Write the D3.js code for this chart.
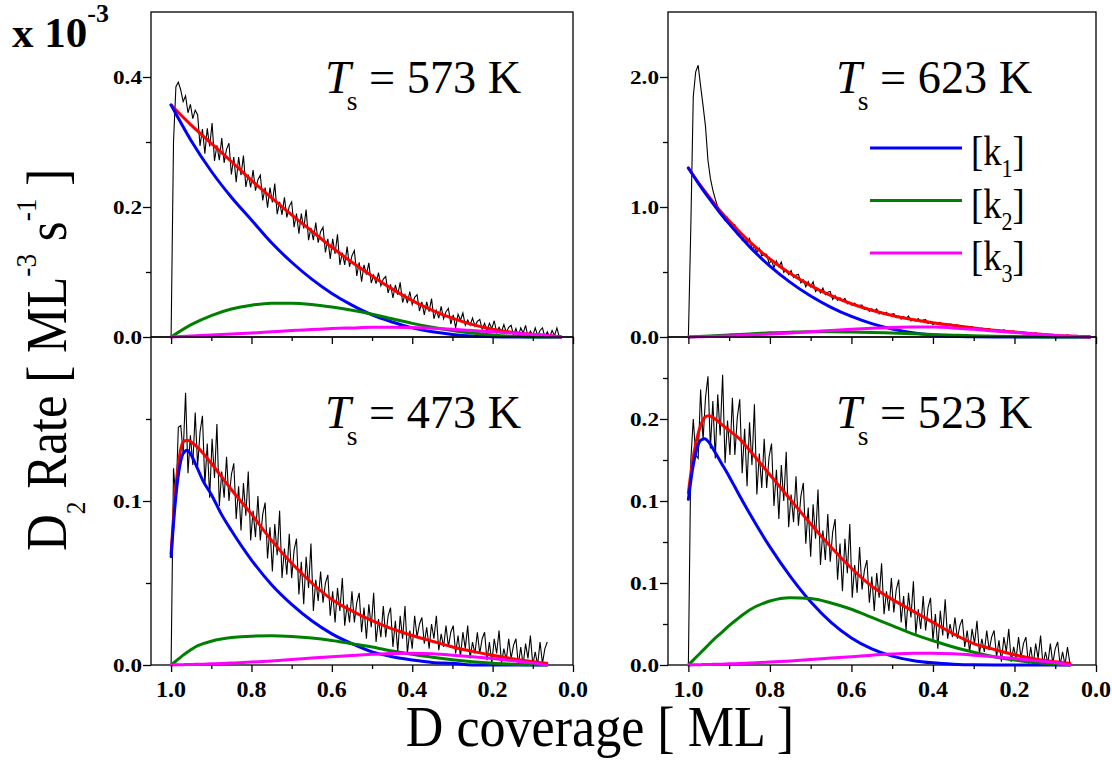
<!DOCTYPE html>
<html><head><meta charset="utf-8">
<script src="https://cdn.jsdelivr.net/npm/d3@7"></script>
<style>body{margin:0;background:#fff}svg{display:block}</style>
</head><body>
<script>
// ---------- DATA ----------
const temps = ["573", "623", "473", "523"];
const legendLabels = ["1", "2", "3"];
const xMajor = [1.0, 0.8, 0.6, 0.4, 0.2, 0.0];
const xMinor = [0.9, 0.7, 0.5, 0.3, 0.1];
const xLabels = ["1.0", "0.8", "0.6", "0.4", "0.2", "0.0"];

const yMajA = [0, 0.2, 0.4], yMinA = [0.1, 0.3], yLabA = ["0.0", "0.2", "0.4"];
const yMajB = [0, 1, 2], yMinB = [0.5, 1.5], yLabB = ["0.0", "1.0", "2.0"];
const yMajC = [0, 0.1], yMinC = [0.05, 0.15], yLabC = ["0.0", "0.1"];
const yMajD = [0, 0.05, 0.1, 0.15], yMinD = [0.025, 0.075, 0.125, 0.175], yLabD = ["0.0", "0.1", "0.1", "0.2"];

// measured signal: coverage runs from 1.0 downward in equal steps
const blackStart = 1.0, blackStep = 0.006;

// Ts = 573 K
const fitCovA = [1.0,.95,.9,.85,.8,.75,.7,.65,.6,.55,.5,.45,.4,.35,.3,.25,.2,.15,.1,.05,.03];
const redA = [.357,.326,.298,.27,.241,.214,.188,.163,.138,.115,.094,.074,.056,.041,.029,.019,.012,.007,.004,.0015,0];
const blueA = [.357,.302,.255,.215,.180,.145,.115,.089,.067,.049,.034,.023,.014,.008,.004,.0015,.0005,0,0,0,0];
const greenA = [0,.019,.033,.043,.049,.052,.052,.050,.046,.041,.035,.028,.021,.015,.010,.006,.003,.001,0,0,0];
const magentaA = [0,.0015,.003,.0045,.006,.008,.010,.0115,.013,.014,.015,.015,.0145,.0135,.012,.010,.008,.006,.004,.0015,0];
const blackA = [0,.30,.385,.392,.38,.362,.371,.345,.358,.336,
 .349,.342,.294,.320,.282,.321,.293,.329,.271,.295,
 .272,.306,.268,.289,.298,.250,.277,.238,.277,.249,
 .279,.231,.250,.230,.257,.225,.242,.249,.210,.230,
 .199,.230,.207,.236,.189,.208,.188,.215,.184,.201,
 .208,.169,.190,.159,.190,.167,.196,.149,.168,.149,
 .176,.145,.162,.169,.130,.151,.120,.151,.128,.158,
 .111,.130,.111,.139,.108,.125,.133,.094,.115,.085,
 .111,.096,.114,.083,.095,.082,.099,.079,.089,.093,
 .068,.081,.060,.080,.065,.084,.053,.065,.052,.070,
 .050,.061,.065,.040,.054,.034,.054,.039,.059,.028,
 .041,.029,.047,.028,.039,.044,.020,.034,.014,.035,
 .026,.037,.018,.026,.018,.029,.017,.024,.027,.012,
 .021,.009,.021,.013,.025,.007,.015,.008,.019,.007,
 .015,.018,.003,.013,.001,.014,.006,.018,0,.009,
 .002,.014,.002,.010,.014,0,.008,0,.010,.002,
 .014,0];

// Ts = 623 K
const fitCovB = [1.0,.975,.95,.925,.9,.875,.85,.8,.75,.7,.65,.6,.55,.5,.45,.4,.35,.3,.25,.2,.15,.1,.05,.015];
const redB = [1.30,1.185,1.081,.982,.894,.811,.734,.60,.488,.395,.318,.256,.206,.166,.135,.11,.089,.069,.052,.038,.024,.012,.005,0];
const blueB = [1.30,1.18,1.07,.965,.87,.78,.695,.545,.42,.315,.228,.158,.103,.062,.033,.015,.005,.001,0,0,0,0,0,0];
const greenB = [0,.004,.008,.012,.016,.020,.024,.032,.037,.040,.040,.038,.035,.030,.025,.019,.014,.009,.005,.003,.001,0,0,0];
const magentaB = [0,.0015,.003,.005,.008,.011,.015,.023,.031,.040,.050,.060,.068,.074,.077,.076,.070,.059,.047,.035,.023,.012,.005,0];
const blackB = [0,.85,1.85,2.04,2.09,1.93,1.78,1.62,1.36,1.22,
 1.13,1.06,1.0,.95,.93,.896,.920,.857,.867,.863,
 .789,.805,.745,.777,.728,.758,.676,.693,.653,.682,
 .624,.638,.636,.566,.588,.533,.585,.542,.576,.497,
 .516,.479,.511,.458,.477,.481,.416,.440,.387,.427,
 .386,.425,.349,.373,.340,.376,.325,.345,.351,.289,
 .318,.283,.302,.279,.296,.255,.264,.245,.261,.234,
 .244,.245,.212,.224,.197,.217,.197,.216,.178,.190,
 .173,.190,.165,.175,.179,.148,.162,.137,.158,.141,
 .161,.124,.137,.122,.142,.118,.130,.134,.104,.119,
 .095,.113,.103,.113,.093,.099,.090,.100,.086,.091,
 .093,.076,.083,.070,.081,.071,.081,.061,.068,.059,
 .069,.056,.062,.064,.048,.055,.042,.054,.045,.056,
 .036,.043,.035,.046,.033,.039,.041,.025,.033,.020,
 .032,.023,.034,.015,.022,.014,.025,.012,.019,.021,
 .006,.014,.002,.015,.006,.018,0,.008,.001,.012,
 0,.007,.010,0,.002];

// Ts = 473 K
const fitCovC = [1.0,.99,.98,.97,.96,.95,.94,.92,.9,.875,.85,.8,.75,.7,.65,.6,.55,.5,.45,.4,.35,.3,.25,.2,.15,.1,.065];
const redC = [.068,.103,.126,.136,.137,.136,.134,.129,.123,.115,.107,.092,.076,.062,.050,.040,.033,.027,.022,.018,.0145,.011,.0083,.0059,.0038,.002,.001];
const blueC = [.066,.098,.119,.129,.131,.128,.123,.112,.104,.092,.082,.064,.049,.037,.027,.019,.013,.008,.005,.003,.0015,.001,0,0,0,0,0];
const greenC = [0,.002,.004,.006,.0078,.0094,.011,.013,.0145,.0158,.0167,.0176,.0178,.0174,.0165,.015,.013,.011,.0085,.0065,.0047,.0032,.002,.0011,.0005,.0001,0];
const magentaC = [0,.0001,.0002,.0002,.0003,.0003,.0004,.0005,.0007,.0009,.0012,.0018,.0025,.0033,.0042,.005,.0058,.0065,.007,.0071,.0068,.006,.005,.0039,.0026,.0013,0];
const blackC = [0,.12,.10,.145,.146,.129,.166,.117,.140,.122,
 .154,.121,.142,.152,.110,.135,.102,.138,.114,.147,
 .097,.118,.102,.127,.100,.116,.123,.089,.109,.082,
 .111,.091,.118,.076,.094,.078,.103,.076,.092,.099,
 .065,.084,.057,.086,.067,.094,.053,.071,.055,.080,
 .053,.070,.077,.043,.063,.037,.066,.047,.074,.033,
 .052,.039,.057,.038,.050,.055,.030,.045,.026,.047,
 .033,.053,.024,.037,.026,.045,.026,.038,.044,.020,
 .035,.016,.037,.023,.044,.014,.028,.017,.036,.017,
 .030,.035,.011,.027,.008,.030,.016,.036,.007,.021,
 .010,.030,.017,.025,.029,.013,.023,.010,.025,.016,
 .030,.009,.019,.011,.024,.011,.020,.024,.007,.018,
 .005,.020,.010,.024,.004,.014,.007,.020,.007,.016,
 .020,.003,.014,.001,.016,.007,.021,.001,.010,.003,
 .016,.004,.012,.016,0,.011,0,.013,.004,.018,
 0,.008,0,.014,.001,.010,.014];

// Ts = 523 K
const fitCovD = [1.0,.99,.98,.97,.96,.95,.94,.92,.9,.875,.85,.8,.75,.7,.65,.6,.55,.5,.45,.4,.35,.3,.25,.2,.15,.1,.064];
const redD = [.105,.124,.137,.146,.151,.152,.151,.147,.143,.138,.131,.116,.101,.086,.072,.059,.048,.040,.033,.026,.019,.013,.0095,.0063,.0037,.002,.001];
const blueD = [.101,.119,.131,.137,.138,.136,.132,.1235,.115,.1035,.0925,.072,.054,.0385,.026,.0165,.0098,.0054,.0028,.0013,.0005,.0001,0,0,0,0,0];
const greenD = [0,.0025,.005,.0075,.010,.0125,.015,.0195,.024,.029,.0335,.039,.041,.0405,.0378,.034,.029,.024,.019,.0148,.011,.0078,.005,.003,.0015,.0005,0];
const magentaD = [0,.0001,.0002,.0002,.0003,.0003,.0004,.0005,.0007,.0009,.0012,.0018,.0025,.0033,.0042,.005,.006,.0067,.0072,.0072,.0068,.006,.005,.0039,.0027,.0015,0];
const blackD = [0,.125,.15,.128,.126,.168,.137,.163,.176,.132,
 .161,.126,.165,.140,.177,.123,.149,.128,.163,.128,
 .151,.162,.117,.144,.109,.148,.122,.159,.104,.129,
 .108,.138,.108,.127,.135,.097,.119,.089,.122,.100,
 .130,.084,.104,.087,.115,.085,.103,.111,.074,.096,
 .066,.098,.077,.107,.061,.082,.064,.092,.063,.081,
 .089,.052,.074,.045,.077,.056,.086,.041,.061,.044,
 .072,.046,.058,.064,.038,.054,.033,.056,.041,.062,
 .031,.045,.033,.053,.032,.046,.052,.026,.042,.021,
 .044,.029,.051,.019,.034,.022,.042,.021,.035,.041,
 .015,.031,.010,.033,.018,.040,.016,.025,.017,.029,
 .016,.024,.028,.011,.021,.008,.022,.013,.027,.007,
 .016,.008,.021,.009,.017,.021,.005,.015,.002,.017,
 .008,.022,.002,.011,.004,.017,.004,.013,.017,.001,
 .011,0,.013,.004,.018,0,.008,.001,.013,.001,
 .010,.014,0,.008,0,.011,.001];

// ---------- LAYOUT ----------
const FONT = '"Liberation Serif","Times New Roman",serif';
const svg = d3.select("body").append("svg").attr("width", 1112).attr("height", 762);

const panels = [
  {temp: temps[0], box: [151, 573, 12, 337], yMax: 0.5, yMaj: yMajA, yMin: yMinA, yLab: yLabA,
   cov: fitCovA, red: redA, blue: blueA, green: greenA, magenta: magentaA, black: blackA, xLab: false, lab: [325, 93], legend: false},
  {temp: temps[1], box: [668, 1096, 12, 337], yMax: 2.5, yMaj: yMajB, yMin: yMinB, yLab: yLabB,
   cov: fitCovB, red: redB, blue: blueB, green: greenB, magenta: magentaB, black: blackB, xLab: false, lab: [836, 93], legend: true},
  {temp: temps[2], box: [151, 573, 337, 665], yMax: 0.2, yMaj: yMajC, yMin: yMinC, yLab: yLabC,
   cov: fitCovC, red: redC, blue: blueC, green: greenC, magenta: magentaC, black: blackC, xLab: true, lab: [325, 428], legend: false},
  {temp: temps[3], box: [668, 1096, 337, 665], yMax: 0.2, yMaj: yMajD, yMin: yMinD, yLab: yLabD,
   cov: fitCovD, red: redD, blue: blueD, green: greenD, magenta: magentaD, black: blackD, xLab: true, lab: [836, 428], legend: false}
];
const colors = {red: "#ff0000", blue: "#0000ff", green: "#008000", magenta: "#ff00ff"};

panels.forEach(p => {
  const [L, R, T, B] = p.box;
  const x = d3.scaleLinear().domain([1.05, 0]).range([L, R]);
  const y = d3.scaleLinear().domain([0, p.yMax]).range([B, T]);
  const g = svg.append("g");

  g.append("rect").attr("x", L).attr("y", T).attr("width", R - L).attr("height", B - T)
    .attr("fill", "none").attr("stroke", "#000").attr("stroke-width", 1.3);

  g.append("path").datum(p.black).attr("fill", "none").attr("stroke", "#000").attr("stroke-width", 1.1)
    .attr("stroke-linejoin", "miter")
    .attr("d", d3.line().x((d, i) => x(blackStart - i * blackStep)).y(d => y(d)));

  const line = d3.line().x((d, i) => x(p.cov[i])).y(d => y(d)).curve(d3.curveMonotoneX);
  ["red", "blue", "green", "magenta"].forEach(k => {
    g.append("path").datum(p[k]).attr("fill", "none").attr("stroke", colors[k])
      .attr("stroke-width", 3).attr("stroke-linejoin", "round").attr("stroke-linecap", "round").attr("d", line);
  });

  const styleAxis = a => { a.select(".domain").remove(); a.selectAll("line").attr("stroke", "#000").attr("stroke-width", 1.3); a.selectAll("text").remove(); };
  g.append("g").attr("transform", `translate(${L},0)`).call(d3.axisLeft(y).tickValues(p.yMaj).tickSize(8)).call(styleAxis);
  g.append("g").attr("transform", `translate(${L},0)`).call(d3.axisLeft(y).tickValues(p.yMin).tickSize(5)).call(styleAxis);
  g.append("g").attr("transform", `translate(0,${B})`).call(d3.axisBottom(x).tickValues(xMajor).tickSize(7)).call(styleAxis);
  g.append("g").attr("transform", `translate(0,${B})`).call(d3.axisBottom(x).tickValues(xMinor).tickSize(4)).call(styleAxis);

  p.yMaj.forEach((v, i) => {
    g.append("text").attr("transform", `translate(${L - 9},${y(v) + 6.5}) scale(1.22,1)`)
      .attr("text-anchor", "end").attr("font-family", FONT).attr("font-weight", "bold").attr("font-size", 19)
      .text(p.yLab[i]);
  });
  if (p.xLab) {
    xMajor.forEach((v, i) => {
      g.append("text").attr("x", x(v)).attr("y", B + 32).attr("text-anchor", "middle")
        .attr("font-family", FONT).attr("font-weight", "bold").attr("font-size", 24).text(xLabels[i]);
    });
  }

  const t = g.append("text").attr("transform", `translate(${p.lab[0]},${p.lab[1]}) scale(0.985,1)`)
    .attr("font-family", FONT).attr("font-size", 47);
  t.append("tspan").attr("font-style", "italic").text("T");
  t.append("tspan").attr("font-size", 28).attr("dx", -4).attr("dy", 17).text("s");
  t.append("tspan").attr("dy", -17).text(` = ${p.temp} K`);

  if (p.legend) {
    legendLabels.forEach((n, i) => {
      const ly = 148 + i * 52.5;
      const c = [colors.blue, colors.green, colors.magenta][i];
      g.append("line").attr("x1", 870).attr("x2", 962).attr("y1", ly).attr("y2", ly).attr("stroke", c).attr("stroke-width", 3);
      const lt = g.append("text").attr("transform", `translate(971,${ly + 17}) scale(0.85,1)`)
        .attr("font-family", FONT).attr("font-size", 43);
      lt.append("tspan").text("[k");
      lt.append("tspan").attr("font-size", 26).attr("dy", 12).text(n);
      lt.append("tspan").attr("dy", -12).text("]");
    });
  }
});

// multiplier
const mt = svg.append("text").attr("x", 12).attr("y", 47).attr("font-family", FONT).attr("font-weight", "bold").attr("font-size", 43);
mt.append("tspan").text("x 10");
mt.append("tspan").attr("font-size", 26).attr("dy", -25).text("-3");

// y title
const yt = svg.append("text").attr("transform", "translate(66,360) rotate(-90) scale(0.91,1)")
  .attr("text-anchor", "middle").attr("font-family", FONT).attr("font-size", 56);
yt.append("tspan").text("D");
yt.append("tspan").attr("font-size", 28).attr("dy", 19).text("2");
yt.append("tspan").attr("dy", -19).text(" Rate [ ML");
yt.append("tspan").attr("font-size", 30).attr("dy", -30).text("-3");
yt.append("tspan").attr("dy", 30).text(" s");
yt.append("tspan").attr("font-size", 30).attr("dy", -30).text("-1");
yt.append("tspan").attr("dy", 30).text(" ]");

// x title
svg.append("text").attr("transform", "translate(600,746) scale(0.93,1)").attr("text-anchor", "middle")
  .attr("font-family", FONT).attr("font-size", 56).text("D coverage [ ML ]");
</script>
</body></html>
